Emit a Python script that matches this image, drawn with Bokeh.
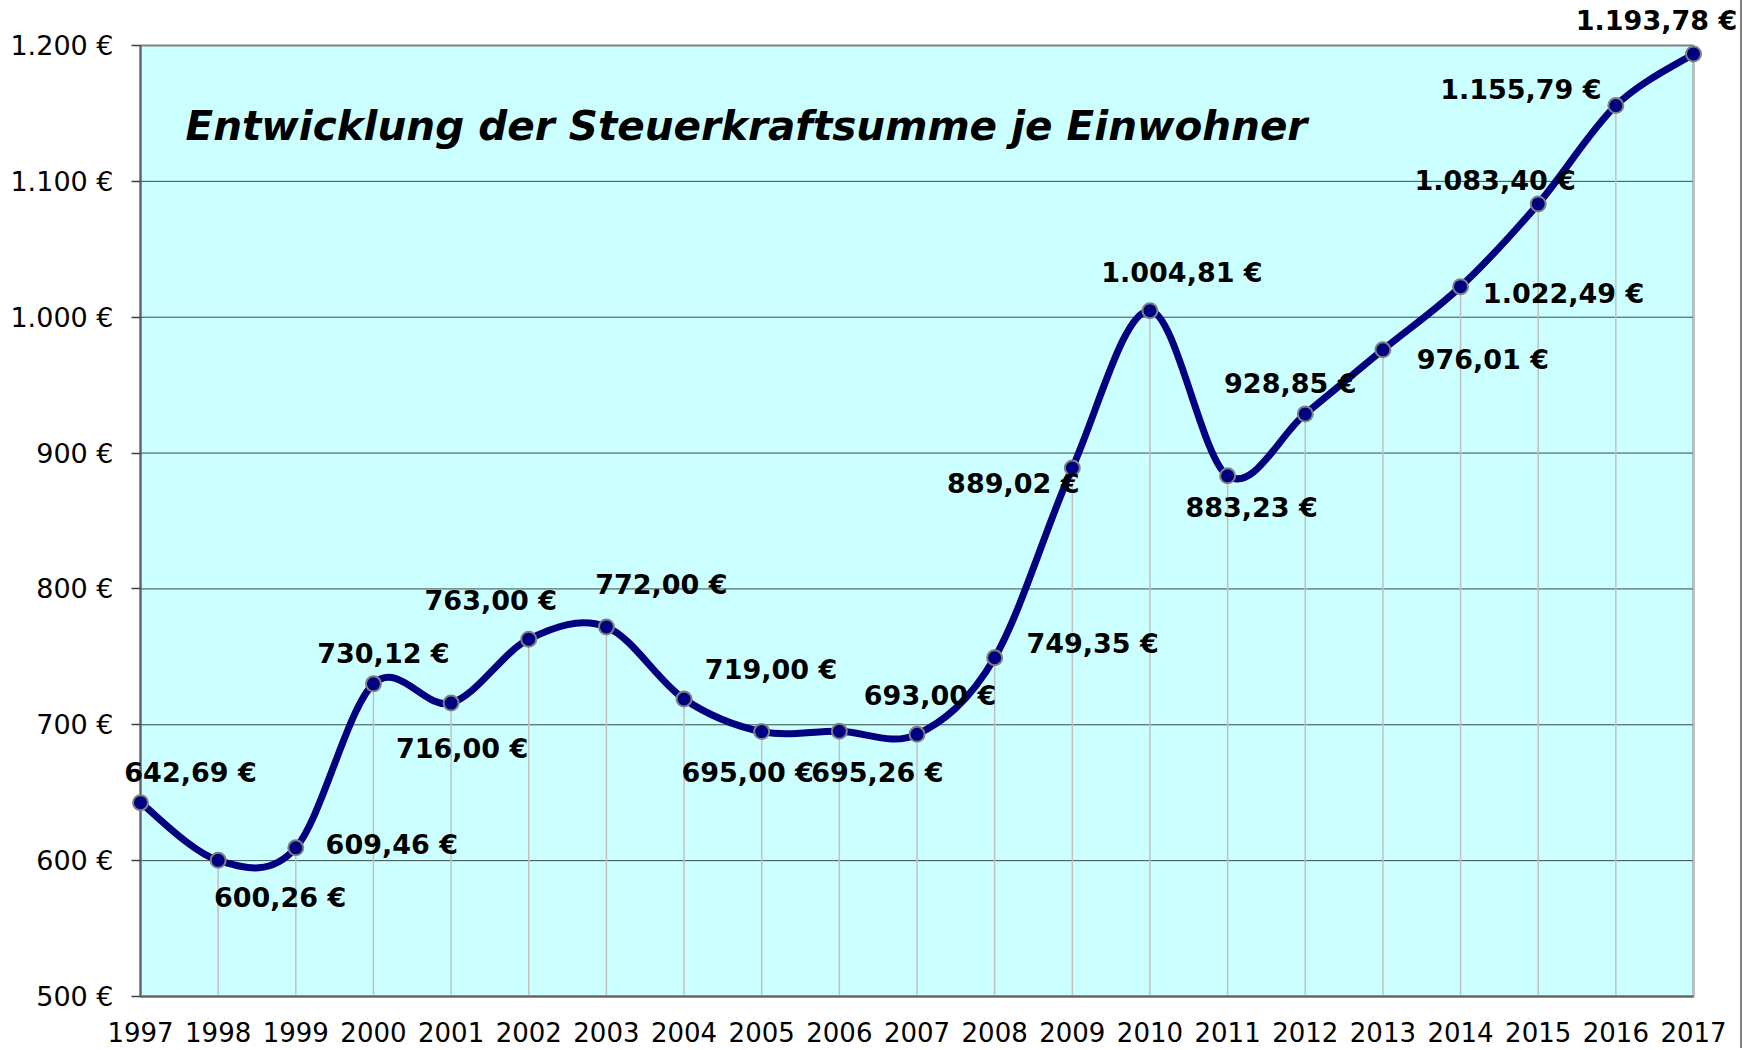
from bokeh.plotting import figure
from bokeh.models import Label, FixedTicker, Range1d
from bokeh.embed import file_html
from bokeh.resources import INLINE

years = list(range(1997, 2018))
values = [642.69, 600.26, 609.46, 730.12, 716.00, 763.00, 772.00, 719.00, 695.00,
          695.26, 693.00, 749.35, 889.02, 1004.81, 883.23, 928.85, 976.01, 1022.49,
          1083.40, 1155.79, 1193.78]
y_ticks = [500, 600, 700, 800, 900, 1000, 1100, 1200]
y_tick_labels = ["500 €", "600 €", "700 €", "800 €", "900 €", "1.000 €", "1.100 €", "1.200 €"]
x_tick_labels = [str(y) for y in years]
title_text = "Entwicklung der Steuerkraftsumme je Einwohner"

# label placement (screen px, right / down)
label_dx = [50, 62, 96, 10, 11, -38, 55, 87, -14, 38, 13, 98, -59, 32, 24, -15, 100, 103, -43, -95, -37]
label_dy = [-30, 37, -3, -30, 45, -39, -42, -29, 41, 41, -39, -14, 16, -38, 32, -30, 10, 7, -23, -16, -33]


def de_fmt(v):
    s = f"{v:,.2f}"
    return s.replace(",", "X").replace(".", ",").replace("X", ".") + " €"


value_labels = [de_fmt(v) for v in values]

# canvas / plot-area geometry (pixels)
W, H = 1742, 1048
AREA_L, AREA_R, AREA_T, AREA_B = 140, 1693, 45, 996
x0, x1 = years[0], years[-1]
y0, y1 = y_ticks[0], y_ticks[-1]
sx = (AREA_R - AREA_L) / (x1 - x0)
sy = (AREA_B - AREA_T) / (y1 - y0)
x_range = Range1d(x0 - AREA_L / sx, x1 + (W - AREA_R) / sx)
y_range = Range1d(y0 - (H - AREA_B) / sy, y1 + AREA_T / sy)

p = figure(width=W, height=H, output_backend="svg", toolbar_location=None,
           x_range=x_range, y_range=y_range, min_border=0, title=None)
p.styles = {"border-right": "2px solid #808080"}
p.background_fill_color = "white"
p.border_fill_color = "white"
p.outline_line_color = None

# plot area
p.quad(left=[x0], right=[x1], bottom=[y0], top=[y1], fill_color="#CCFFFF",
       line_color="#808080", line_width=2)

# horizontal grid lines
p.segment(x0=[x0] * len(y_ticks[1:-1]), y0=y_ticks[1:-1], x1=[x1] * len(y_ticks[1:-1]),
          y1=y_ticks[1:-1], line_color="#3a4a4a", line_width=1)

# axes
p.yaxis.fixed_location = x0
p.xaxis.fixed_location = y0
p.yaxis.bounds = (y0, y1)
p.xaxis.bounds = (x0, x1)
p.yaxis.ticker = FixedTicker(ticks=y_ticks)
p.yaxis.major_label_overrides = {t: l for t, l in zip(y_ticks, y_tick_labels)}
p.xaxis.ticker = FixedTicker(ticks=years)
p.xaxis.major_label_overrides = {y: l for y, l in zip(years, x_tick_labels)}
for ax in (p.xaxis, p.yaxis):
    ax.axis_line_color = "#606060"
    ax.axis_line_width = 2
    ax.major_label_text_font = "DejaVu Sans"
    ax.major_label_text_color = "black"
    ax.minor_tick_line_color = None
p.xaxis.major_label_text_font_size = "26px"
p.yaxis.major_label_text_font_size = "27px"
p.yaxis.major_tick_in = 0
p.yaxis.major_tick_out = 9
p.yaxis.major_tick_line_color = "#404040"
p.yaxis.major_tick_line_width = 1.5
p.yaxis.major_label_standoff = 18
p.xaxis.major_tick_line_color = None
p.xaxis.major_label_standoff = 19
p.xgrid.grid_line_color = None
p.ygrid.grid_line_color = None

# drop lines
p.segment(x0=years, y0=[y0] * len(years), x1=years, y1=values,
          line_color="#C0C0C0", line_width=1.5)

# smoothed line (Catmull-Rom style bezier through the data points)
n = len(years)
bx0, by0, bx1, by1, cx0s, cy0s, cx1s, cy1s = [], [], [], [], [], [], [], []
for i in range(n - 1):
    im1 = max(i - 1, 0)
    ip2 = min(i + 2, n - 1)
    bx0.append(years[i]); by0.append(values[i])
    bx1.append(years[i + 1]); by1.append(values[i + 1])
    cx0s.append(years[i] + (years[i + 1] - years[im1]) / 6)
    cy0s.append(values[i] + (values[i + 1] - values[im1]) / 6)
    cx1s.append(years[i + 1] - (years[ip2] - years[i]) / 6)
    cy1s.append(values[i + 1] - (values[ip2] - values[i]) / 6)
p.bezier(x0=bx0, y0=by0, x1=bx1, y1=by1, cx0=cx0s, cy0=cy0s, cx1=cx1s, cy1=cy1s,
         line_color="#000080", line_width=7, line_cap="round")

p.scatter(x=years, y=values, size=15, fill_color="#000080", line_color="#808080", line_width=2,
          level="overlay")

for yr, v, t, dx, dy in zip(years, values, value_labels, label_dx, label_dy):
    p.add_layout(Label(x=yr, y=v, text=t, x_offset=dx, y_offset=-dy,
                       text_align="center", text_baseline="middle",
                       text_font="DejaVu Sans", text_font_style="bold",
                       text_font_size="27px", text_color="black", level="overlay"))

p.add_layout(Label(x=x0 + 45 / sx, y=y1 - 80 / sy, text=title_text, text_align="left",
                   text_baseline="middle", text_font="DejaVu Sans", text_font_style="bold italic",
                   text_font_size="40.5px", text_color="black"))

open("out.html", "w").write(file_html(p, INLINE))
